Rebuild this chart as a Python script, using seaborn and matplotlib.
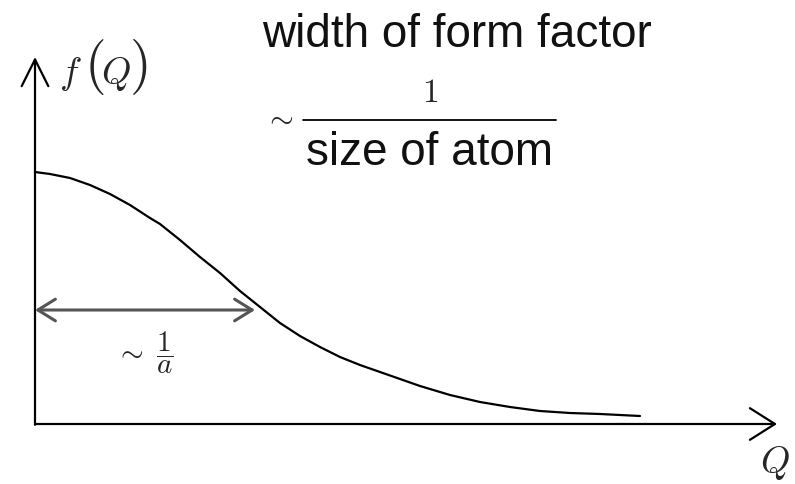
import numpy as np
import pandas as pd
import matplotlib
matplotlib.use("Agg")
import matplotlib.pyplot as plt
import seaborn as sns
from matplotlib.lines import Line2D

# curve (arbitrary units)
Q = [0.0, 0.15, 0.35, 0.55, 0.75, 0.95, 1.15, 1.25, 1.45, 1.65, 1.85,
     2.05, 2.25, 2.45, 2.65, 2.85, 3.05, 3.25, 3.45, 3.65, 3.85, 4.15,
     4.45, 4.75, 5.05, 5.35, 5.65, 6.05]
fQ = [2.52, 2.50, 2.46, 2.39, 2.30, 2.19, 2.06, 2.00, 1.84, 1.67, 1.51,
      1.33, 1.17, 1.01, 0.88, 0.77, 0.67, 0.59, 0.52, 0.45, 0.38, 0.29,
      0.22, 0.17, 0.13, 0.11, 0.10, 0.08]

q_axis_end = 7.42
f_axis_end = 3.67
width_q = 2.20      # ~ 1/a
width_level = 1.14

sns.set_theme(style="white")
plt.rcParams["mathtext.fontset"] = "cm"

fig = plt.figure(figsize=(7.95, 4.84), dpi=100)
ax = fig.add_axes([0, 0, 1, 1])
ax.set_xlim(-0.35, 7.60)
ax.set_ylim(-0.60, 4.24)
ax.axis("off")

df = pd.DataFrame({"Q": Q, "f": fQ})
sns.lineplot(data=df, x="Q", y="f", color="black", lw=1.6, ax=ax)

# axes with open arrow heads
ax.annotate("", xy=(q_axis_end, 0), xytext=(0, 0),
            arrowprops=dict(arrowstyle="->,head_length=1.5,head_width=0.95",
                            lw=1.6, color="black", shrinkA=0, shrinkB=0))
ax.annotate("", xy=(0, f_axis_end), xytext=(0, -0.008),
            arrowprops=dict(arrowstyle="->,head_length=1.6,head_width=0.8",
                            lw=1.6, color="black", shrinkA=0, shrinkB=0))

# width arrow
ax.annotate("", xy=(width_q, width_level), xytext=(0, width_level),
            arrowprops=dict(arrowstyle="<->,head_length=1.05,head_width=0.65",
                            lw=2.2, color="#555555", shrinkA=0, shrinkB=0))
ax.text(1.09, width_level - 0.43, r"$\sim\ \dfrac{1}{a}$",
        fontsize=21, ha="center", va="center")

# f(Q) label with tall parentheses
ax.text(0.35, 3.50, r"$f$", fontsize=27, ha="center", va="center")
ax.text(0.59, 3.57, r"$($", fontsize=40, ha="center", va="center")
ax.text(0.805, 3.50, r"$Q$", fontsize=27, ha="center", va="center")
ax.text(1.03, 3.57, r"$)$", fontsize=40, ha="center", va="center")
ax.text(7.40, -0.39, r"$Q$", fontsize=27, ha="center", va="center")

sans = ["Liberation Sans", "DejaVu Sans"]
fig.text(457 / 795, 1 - 47 / 484, "width of form factor", fontsize=33,
         family=sans, ha="center", va="baseline", color="#111111")
fig.text(279 / 795, 1 - 117 / 484, r"$\sim$", fontsize=22,
         ha="center", va="center")
fig.text(430 / 795, 1 - 92 / 484, r"$1$", fontsize=24,
         ha="center", va="center")
fig.add_artist(Line2D([303 / 795, 556 / 795], [1 - 120 / 484] * 2,
                      color="black", lw=1.3))
fig.text(430 / 795, 1 - 165 / 484, "size of atom", fontsize=33,
         family=sans, ha="center", va="baseline", color="#111111")

fig.savefig("out.png", dpi=100)
